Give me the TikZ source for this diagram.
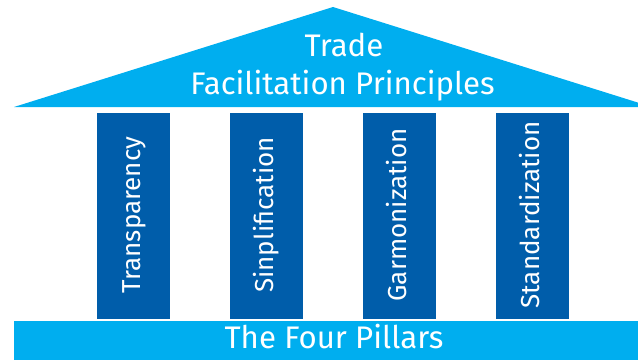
\documentclass[tikz,border=0pt]{standalone}
\usepackage{fontspec}
\setmainfont{Fira Sans}
\definecolor{roofblue}{RGB}{0,174,239}
\definecolor{pillarblue}{RGB}{0,93,170}
\begin{document}
\begin{tikzpicture}[x=0.75pt,y=0.75pt,yscale=-1,xscale=1,
    roofpart/.style={fill=roofblue,draw=none},
    pillar/.style={fill=pillarblue,draw=none},
    pillartext/.style={text=white,font=\fontsize{19.5}{22}\selectfont,rotate=90,anchor=base,inner sep=0pt},
    rooftext/.style={text=white,font=\fontsize{23.4}{28}\selectfont,anchor=base,inner sep=0pt}]
\useasboundingbox (0,0) rectangle (638,360);
\clip (0,0) rectangle (638,360);

%Shape: Triangle [id:roof]
\draw [roofpart] (14,107) -- (333,7) -- (652,107) -- cycle ;
%Shape: Rectangle [id:base]
\draw [roofpart] (14,321) rectangle (660,360) ;

%Shape: Rectangle [id:pillar1]
\draw [pillar] (97,113) rectangle (170,319) ;
%Shape: Rectangle [id:pillar2]
\draw [pillar] (230,113) rectangle (303,319) ;
%Shape: Rectangle [id:pillar3]
\draw [pillar] (363,113) rectangle (436,319) ;
%Shape: Rectangle [id:pillar4]
\draw [pillar] (496,113) rectangle (569,319) ;

% Text Node
\node [rooftext] (titletop) at (344,56) {Trade};
% Text Node
\node [rooftext] (titlebottom) at (342.5,94) {Facilitation Principles};
% Text Node
\node [rooftext] (basetext) at (334,348) {The Four Pillars};
% Text Node
\node [pillartext] (transp) at (140,215) {Transparency};
% Text Node
\node [pillartext] (simpl) at (273,215) {Sinplification};
% Text Node
\node [pillartext] (harmon) at (406,215) {Garmonization};
% Text Node
\node [pillartext] (standard) at (539,215) {Standardization};
\end{tikzpicture}
\end{document}
